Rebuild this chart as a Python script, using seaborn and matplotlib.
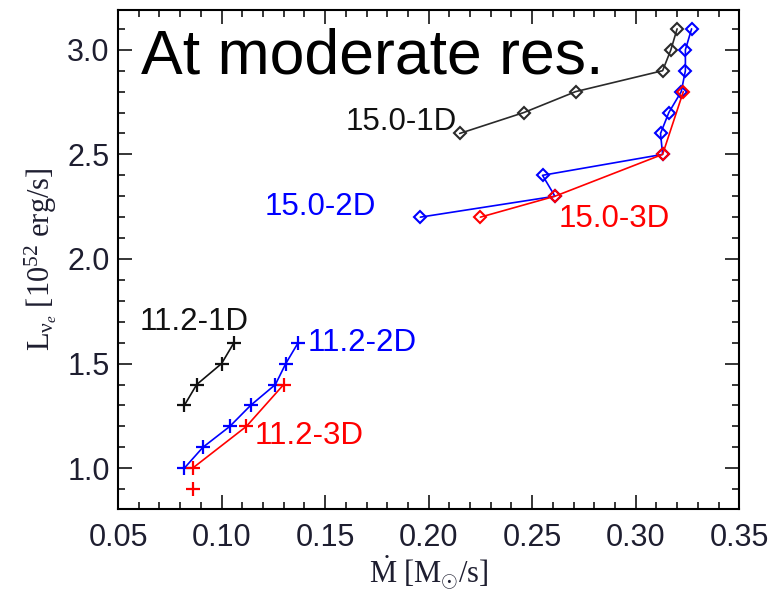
import matplotlib
matplotlib.use("Agg")
import matplotlib.pyplot as plt
import seaborn as sns
import pandas as pd
from matplotlib.ticker import MultipleLocator

# Accretion rate Mdot [Msun/s] and neutrino luminosity L [1e52 erg/s]
m150_1d = [0.215, 0.246, 0.271, 0.313, 0.317, 0.320]
l150_1d = [2.6, 2.7, 2.8, 2.9, 3.0, 3.1]

m150_2d = [0.196, 0.261, 0.255, 0.313, 0.312, 0.316, 0.322, 0.324, 0.324, 0.327]
l150_2d = [2.2, 2.3, 2.4, 2.5, 2.6, 2.7, 2.8, 2.9, 3.0, 3.1]

m150_3d = [0.225, 0.261, 0.313, 0.323]
l150_3d = [2.2, 2.3, 2.5, 2.8]

m112_1d = [0.082, 0.088, 0.100, 0.106]
l112_1d = [1.3, 1.4, 1.5, 1.6]

m112_2d = [0.082, 0.091, 0.104, 0.114, 0.126, 0.131, 0.137]
l112_2d = [1.0, 1.1, 1.2, 1.3, 1.4, 1.5, 1.6]

m112_3d = [0.086, 0.112, 0.130]
l112_3d = [1.0, 1.2, 1.4]
# lone 11.2-3D model that is not joined to the sequence
m112_3d_single = [0.086]
l112_3d_single = [0.9]

sns.set_theme(style="ticks")
plt.rcParams["font.family"] = ["Liberation Sans", "DejaVu Sans"]
plt.rcParams["mathtext.fontset"] = "custom"
plt.rcParams["mathtext.rm"] = "Liberation Serif"
plt.rcParams["mathtext.it"] = "Liberation Serif:italic"

fig = plt.figure(figsize=(7.73, 5.90), dpi=100)
ax = fig.add_axes([0.1527, 0.1373, 0.8036, 0.8457])

lw = 1.2


def draw(m, l, color, marker, ms, mew):
    df = pd.DataFrame({"M": m, "L": l})
    sns.lineplot(data=df, x="M", y="L", ax=ax, sort=False, estimator=None,
                 color=color, lw=lw, marker=marker, markersize=ms,
                 markerfacecolor="none", markeredgecolor=color,
                 markeredgewidth=mew)


draw(m150_1d, l150_1d, "#2a2a2a", "D", 6, 1.5)
draw(m150_2d, l150_2d, "#0000ff", "D", 6, 1.5)
draw(m150_3d, l150_3d, "#ff0000", "D", 6, 1.5)
draw(m112_1d, l112_1d, "#111111", "+", 10, 1.6)
draw(m112_2d, l112_2d, "#0000ff", "+", 10, 1.6)
draw(m112_3d, l112_3d, "#ff0000", "+", 10, 1.6)
sns.scatterplot(x=m112_3d_single, y=l112_3d_single, ax=ax, marker="+",
                s=100, color="#ff0000", linewidth=1.6)

lab = dict(fontsize=22.5)
ax.text(0.2138, 2.655, "15.0-1D", color="#111111", ha="right", va="center", **lab)
ax.text(0.121, 2.25, "15.0-2D", color="#0000ff", ha="left", va="center", **lab)
ax.text(0.263, 2.19, "15.0-3D", color="#ff0000", ha="left", va="center", **lab)
ax.text(0.0606, 1.70, "11.2-1D", color="#111111", ha="left", va="center", **lab)
ax.text(0.1418, 1.60, "11.2-2D", color="#0000ff", ha="left", va="center", **lab)
ax.text(0.1162, 1.153, "11.2-3D", color="#ff0000", ha="left", va="center", **lab)

ax.text(0.037, 0.872, "At moderate res.", transform=ax.transAxes,
        fontsize=45, color="black", ha="left", va="baseline")

ax.set_xlim(0.05, 0.35)
ax.set_ylim(0.805, 3.19)
ax.xaxis.set_major_locator(MultipleLocator(0.05))
ax.xaxis.set_minor_locator(MultipleLocator(0.01))
ax.yaxis.set_major_locator(MultipleLocator(0.5))
ax.yaxis.set_minor_locator(MultipleLocator(0.1))
ax.xaxis.set_major_formatter(plt.FuncFormatter(lambda v, p: f"{v:.2f}"))
ax.yaxis.set_major_formatter(plt.FuncFormatter(lambda v, p: f"{v:.1f}"))

ax.tick_params(which="both", direction="in", top=True, right=True,
               colors="black", labelcolor="#1e1e30")
ax.tick_params(which="major", length=10, width=1.1, labelsize=22)
ax.tick_params(axis="x", which="major", pad=10)
ax.tick_params(axis="y", which="major", pad=6)
ax.tick_params(which="minor", length=5, width=1.1)
for s in ax.spines.values():
    s.set_linewidth(1.5)
    s.set_color("black")

ax.set_xlabel(r"$\dot{\mathrm{M}}\ \mathrm{[M_{\odot}/s]}$", fontsize=22,
              color="#1e1e30", labelpad=0)
ax.set_ylabel(r"$\mathrm{L_{\nu_{\it e}}\ [10^{52}\ erg/s]}$", fontsize=22,
              color="#1e1e30", labelpad=6)

fig.savefig("out.png", dpi=100)
